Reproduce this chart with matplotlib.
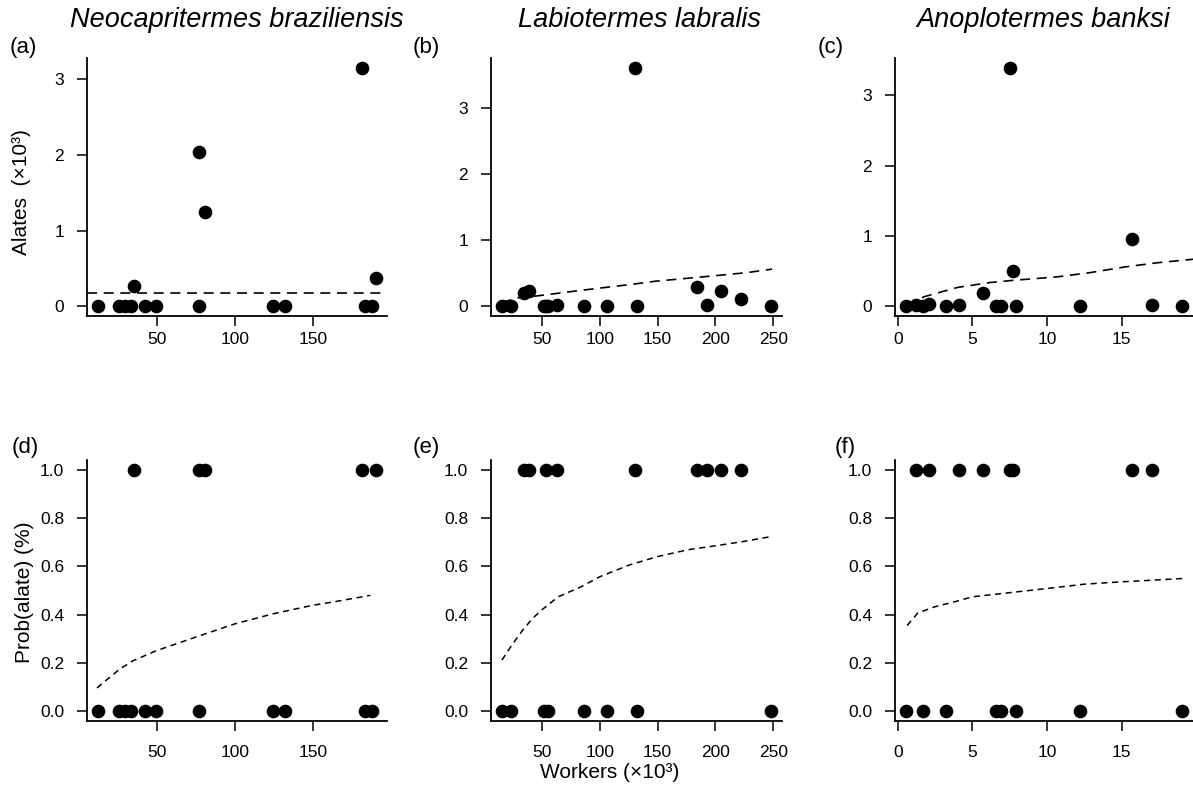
import numpy as np
import matplotlib
matplotlib.use("Agg")
import matplotlib.pyplot as plt

plt.rcParams['font.family'] = ['Liberation Sans', 'DejaVu Sans']

# 物种名
species = ["Neocapritermes braziliensis", "Labiotermes labralis", "Anoplotermes banksi"]

# 工蚁数量 (×10³) 与有翅成虫数量 (×10³)
workers_nb = np.array([12.2, 25.8, 29.5, 33.1, 35.2, 42.4, 49.3, 77.1, 77.1, 81.0,
                       124.2, 132.4, 181.4, 183.5, 188.0, 190.5])
alates_nb = np.array([0, 0, 0, 0, 0.264, 0, 0, 2.04, 0, 1.24,
                      0, 0, 3.15, 0, 0, 0.374])

workers_ll = np.array([15.3, 23.5, 34.5, 38.7, 51.7, 53.3, 55.7, 62.8, 86.8, 106.2,
                       130.5, 132.2, 184.3, 193.0, 204.8, 222.0, 248.3])
alates_ll = np.array([0, 0, 0.21, 0.237, 0, 0.01, 0, 0.025, 0, 0,
                      3.62, 0, 0.30, 0.025, 0.227, 0.11, 0])

workers_ab = np.array([0.55, 1.22, 1.67, 2.11, 3.23, 4.12, 5.68, 6.57, 6.95, 7.49,
                       7.73, 7.91, 12.19, 15.71, 17.05, 19.05])
alates_ab = np.array([0, 0.02, 0, 0.033, 0, 0.024, 0.19, 0, 0, 3.39,
                      0.505, 0, 0, 0.954, 0.024, 0])

# 上排拟合线
fit_nb_level = 0.175
fit_ll_x = [15, 29, 46, 82, 130, 147, 184, 226, 249]
fit_ll_y = [0.06, 0.13, 0.16, 0.24, 0.34, 0.38, 0.44, 0.51, 0.565]
fit_ab_x = [0.6, 1.8, 4.0, 6.2, 7.7, 10.7, 12.9, 15.2, 17.4, 19.8]
fit_ab_y = [0.03, 0.14, 0.27, 0.34, 0.37, 0.42, 0.48, 0.56, 0.62, 0.67]

# 下排概率曲线
prob_nb_x = [11.5, 25.9, 34.5, 49.6, 77.5, 100, 124.8, 150, 163.5, 187]
prob_nb_y = [0.097, 0.174, 0.209, 0.251, 0.313, 0.362, 0.404, 0.439, 0.453, 0.48]
prob_ll_x = [15.4, 24.7, 33.1, 41.6, 50, 64.1, 83.8, 100, 125.9, 150.5, 176.7, 200, 224.5, 249.3]
prob_ll_y = [0.212, 0.279, 0.334, 0.383, 0.42, 0.474, 0.515, 0.557, 0.606, 0.641,
             0.669, 0.685, 0.703, 0.724]
prob_ab_x = [0.62, 1.34, 2.45, 3.79, 5.01, 6.91, 9.96, 12.48, 15, 17.16, 19.17]
prob_ab_y = [0.355, 0.407, 0.432, 0.453, 0.474, 0.487, 0.508, 0.526, 0.536, 0.543, 0.55]

xticks_top = [[50, 100, 150], [50, 100, 150, 200, 250], [0, 5, 10, 15]]
yticks_top = [[0, 1, 2, 3], [0, 1, 2, 3], [0, 1, 2, 3]]
yticks_bot = [0.0, 0.2, 0.4, 0.6, 0.8, 1.0]

W, H = 1193, 786
fig = plt.figure(figsize=(W / 100, H / 100), dpi=100)


def px_axes(left, right, top, bottom):
    return fig.add_axes([left / W, 1 - bottom / H, (right - left) / W, (bottom - top) / H])


def r_lim(v):
    lo, hi = np.min(v), np.max(v)
    d = (hi - lo) * 0.04
    return lo - d, hi + d


def style(ax, xpad, ypad):
    for s in ["top", "right"]:
        ax.spines[s].set_visible(False)
    for s in ["left", "bottom"]:
        ax.spines[s].set_linewidth(1.3)
    ax.tick_params(axis="both", direction="out", length=7.5, width=1.1, labelsize=12.5)
    ax.tick_params(axis="x", pad=xpad)
    ax.tick_params(axis="y", pad=ypad)


workers = [workers_nb, workers_ll, workers_ab]
alates = [alates_nb, alates_ll, alates_ab]
prob_x = [prob_nb_x, prob_ll_x, prob_ab_x]
prob_y = [prob_nb_y, prob_ll_y, prob_ab_y]
lefts = [87, 491, 895]
rights = [387, 782, 1193]
letters_top = ["(a)", "(b)", "(c)"]
letters_bot = ["(d)", "(e)", "(f)"]
letter_x_top = [10, 413, 818]
letter_x_bot = [12, 413, 835]
title_x = [237, 639, 1043]

for i in range(3):
    # 上排: 有翅成虫数量
    ax = px_axes(lefts[i], rights[i], 58, 316)
    ax.plot(workers[i], alates[i], "o", color="black", markersize=8.8, zorder=3)
    if i == 0:
        ax.axhline(fit_nb_level, color="black", lw=1.2, ls=(0, (6, 4)))
    elif i == 1:
        ax.plot(fit_ll_x, fit_ll_y, color="black", lw=1.2, ls=(0, (6, 4)))
    else:
        ax.plot(fit_ab_x, fit_ab_y, color="black", lw=1.2, ls=(0, (6, 4)))
    ax.set_xlim(*r_lim(workers[i]))
    ax.set_ylim(*r_lim(np.append(alates[i], 0)))
    ax.set_xticks(xticks_top[i])
    ax.set_yticks(yticks_top[i])
    style(ax, 4, 9)
    fig.text(letter_x_top[i] / W, 1 - 47 / H, letters_top[i], fontsize=16, va="center", ha="left")
    fig.text(title_x[i] / W, 1 - 20 / H, species[i], fontsize=19.5, style="italic",
             va="center", ha="center")

    # 下排: 出现有翅成虫的概率
    ax2 = px_axes(lefts[i], rights[i], 460, 721)
    pres = (alates[i] > 0).astype(float)
    ax2.plot(workers[i], pres, "o", color="black", markersize=8.8, zorder=3)
    ax2.plot(prob_x[i], prob_y[i], color="black", lw=1.1, ls=(0, (4, 3)))
    ax2.set_xlim(*r_lim(workers[i]))
    ax2.set_ylim(-0.04, 1.04)
    ax2.set_xticks(xticks_top[i])
    ax2.set_yticks(yticks_bot)
    ax2.set_yticklabels([f"{v:.1f}" for v in yticks_bot])
    style(ax2, 9.5, 9)
    fig.text(letter_x_bot[i] / W, 1 - 448 / H, letters_bot[i], fontsize=16, va="center", ha="left")

fig.text(22 / W, 1 - 192 / H, "Alates  (×10³)", rotation=90, fontsize=15, va="center", ha="center")
fig.text(24 / W, 1 - 592 / H, "Prob(alate) (%)", rotation=90, fontsize=15, va="center", ha="center")
fig.text(610 / W, 1 - 772 / H, "Workers (×10³)", fontsize=15, va="center", ha="center")

fig.savefig("out.png", dpi=100)
